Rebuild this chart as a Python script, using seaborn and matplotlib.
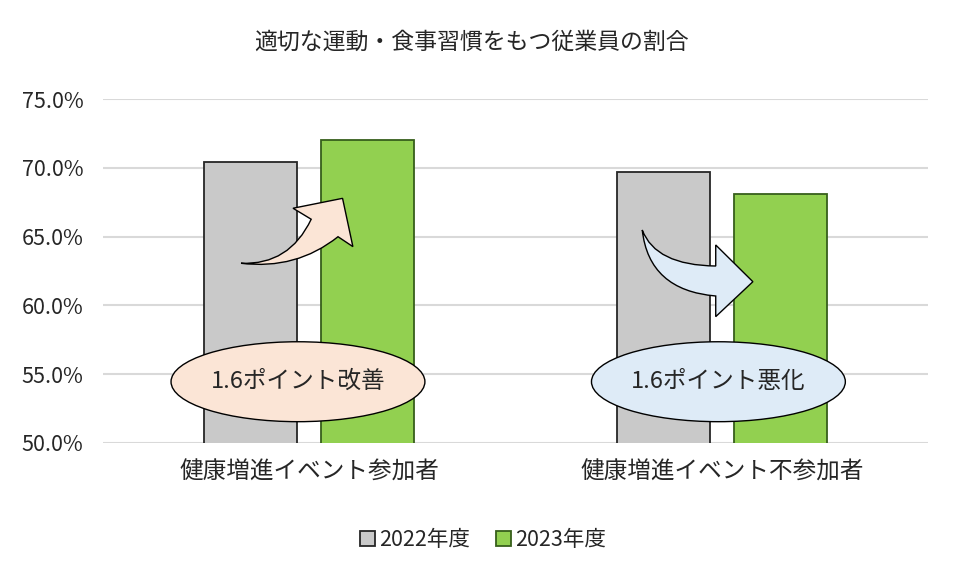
import matplotlib
matplotlib.use("Agg")
import matplotlib.pyplot as plt
import pandas as pd
import seaborn as sns
from matplotlib.patches import Ellipse, PathPatch, Patch
from matplotlib.path import Path
from matplotlib.ticker import FuncFormatter

# data
groups = ['健康増進イベント参加者', '健康増進イベント不参加者']
years = ['2022年度', '2023年度']
val_2022 = [70.4, 69.7]
val_2023 = [72.0, 68.1]
notes = ['1.6ポイント改善', '1.6ポイント悪化']

title = '適切な運動・食事習慣をもつ従業員の割合'

bar_colors = ['#c9c9c9', '#92d050']
edge_colors = ['#262626', '#375f1b']
note_colors = ['#fbe5d6', '#deebf7']

df = pd.DataFrame({
    'group': groups * 2,
    'year': [years[0]] * 2 + [years[1]] * 2,
    'value': val_2022 + val_2023,
})

sns.set_theme(style='white')
plt.rcParams['font.family'] = ['Noto Sans CJK JP', 'DejaVu Sans']

fig = plt.figure(figsize=(9.6, 5.79), dpi=100)
ax = fig.add_axes([0.107, 0.235, 0.86, 0.594])

sns.barplot(data=df, x='group', y='value', hue='year', palette=bar_colors,
            saturation=1, width=0.57, gap=0.21, linewidth=1.3, legend=False,
            ax=ax, zorder=2)

for cont, ec in zip(ax.containers, edge_colors):
    for bar in cont:
        bar.set_edgecolor(ec)

ax.set_ylim(50, 75)
ax.set_xlim(-0.5, 1.5)
ax.set_yticks([50, 55, 60, 65, 70, 75])
ax.yaxis.set_major_formatter(FuncFormatter(lambda v, p: f'{v:.1f}%'))
ax.grid(axis='y', color='#d9d9d9', linewidth=1.5, zorder=0)
ax.set_axisbelow(True)
sns.despine(ax=ax, left=True, bottom=True, top=True, right=True)
ax.set_xlabel('')
ax.set_ylabel('')
ax.tick_params(axis='y', labelsize=15.5, pad=14, colors='#262626', length=0)
ax.tick_params(axis='x', labelsize=17, pad=13, colors='#262626', length=0)

fig.text(0.491, 0.927, title, ha='center', va='center', fontsize=16.5, color='#262626')

# curved arrows (data coordinates)
M, C3, L, Z = Path.MOVETO, Path.CURVE3, Path.LINETO, Path.CLOSEPOLY
up_verts = [(-0.165, 63.06), (-0.048, 62.91), (0.005, 66.26), (-0.039, 67.06),
            (0.081, 67.78), (0.106, 64.27), (0.070, 64.99), (-0.031, 62.57),
            (-0.165, 63.06), (-0.165, 63.06)]
up_codes = [M, C3, C3, L, L, L, L, C3, C3, Z]
down_verts = [(0.807, 65.48), (0.839, 62.91), (0.985, 62.86), (0.985, 64.39),
              (1.075, 61.72), (0.985, 59.18), (0.985, 60.68), (0.823, 61.09),
              (0.807, 65.48), (0.807, 65.48)]
down_codes = [M, C3, C3, L, L, L, L, C3, C3, Z]

for verts, codes, fc in [(up_verts, up_codes, note_colors[0]),
                         (down_verts, down_codes, note_colors[1])]:
    ax.add_patch(PathPatch(Path(verts, codes), facecolor=fc, edgecolor='black',
                           linewidth=1.0, zorder=4))

# ellipse call-outs
for cx, note, fc in zip([-0.027, 0.9915], notes, note_colors):
    ax.add_patch(Ellipse((cx, 54.45), 0.615, 5.81, facecolor=fc,
                         edgecolor='black', linewidth=1.0, zorder=5))
    ax.text(cx, 54.45, note, ha='center', va='center', fontsize=17,
            color='#262626', zorder=6)

handles = [Patch(facecolor=c, edgecolor=e, linewidth=1.3)
           for c, e in zip(bar_colors, edge_colors)]
fig.legend(handles, years, loc='center', bbox_to_anchor=(0.503, 0.067), ncol=2,
           frameon=False, fontsize=15.5, handlelength=0.7, handleheight=0.7,
           handletextpad=0.2, columnspacing=1.2, labelcolor='#262626')

fig.savefig('out.png', dpi=100)
